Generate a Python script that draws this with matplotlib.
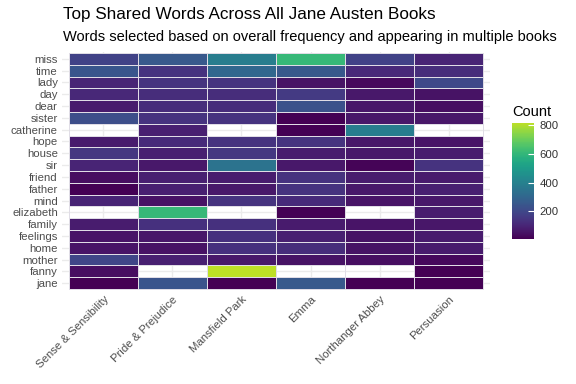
import numpy as np
import matplotlib.pyplot as plt
from matplotlib.colors import Normalize, ListedColormap

books = ['Sense & Sensibility', 'Pride & Prejudice', 'Mansfield Park',
         'Emma', 'Northanger Abbey', 'Persuasion']
words = ['miss', 'time', 'lady', 'day', 'dear', 'sister', 'catherine', 'hope',
         'house', 'sir', 'friend', 'father', 'mind', 'elizabeth', 'family',
         'feelings', 'home', 'mother', 'fanny', 'jane']

nan = np.nan
# counts per word, one column per book (nan = word not in that book)
miss = [185, 255, 385, 610, 185, 95]
time = [245, 140, 300, 255, 110, 120]
lady = [95, 140, 140, 50, 25, 200]
day = [105, 120, 120, 160, 65, 50]
dear = [70, 120, 120, 230, 60, 40]
sister = [220, 140, 140, 5, 60, 60]
catherine = [nan, 85, nan, 5, 385, nan]
hope = [70, 115, 140, 140, 60, 55]
house = [150, 85, 150, 75, 65, 75]
sir = [95, 65, 350, 65, 15, 140]
friend = [40, 85, 75, 140, 75, 70]
father = [10, 85, 65, 140, 65, 85]
mind = [95, 50, 140, 115, 55, 65]
elizabeth = [nan, 610, nan, 5, nan, 75]
family = [75, 130, 130, 70, 55, 60]
feelings = [55, 60, 130, 85, 50, 70]
home = [55, 50, 130, 120, 50, 70]
mother = [195, 85, 65, 50, 40, 25]
fanny = [40, nan, 816, nan, nan, 10]
jane = [5, 240, 5, 255, 10, 10]

values = np.array([miss, time, lady, day, dear, sister, catherine, hope, house,
                   sir, friend, father, mind, elizabeth, family, feelings,
                   home, mother, fanny, jane], dtype=float)

plt.rcParams['font.family'] = ['Liberation Sans', 'DejaVu Sans']

fig = plt.figure(figsize=(5.76, 3.84), dpi=100)
W, H = 576, 384
ax = fig.add_axes([62 / W, 1 - 290.2 / H, 428 / W, (290.2 - 51.8) / H])

cmap = ListedColormap(plt.get_cmap('viridis')(np.linspace(0, 0.9, 256)))
nr, nc = values.shape
norm = Normalize(vmin=np.nanmin(values), vmax=np.nanmax(values))
masked = np.ma.masked_invalid(values[::-1])
mesh = ax.pcolormesh(np.arange(nc + 1) + 0.5, np.arange(nr + 1) + 0.5, masked,
                     cmap=cmap, norm=norm, edgecolors='#e0dde6',
                     linewidth=0.6, zorder=2)

ax.set_xlim(0.4, nc + 0.6)
ax.set_ylim(0.4, nr + 0.6)
ax.set_xticks(np.arange(1, nc + 1))
ax.set_yticks(np.arange(1, nr + 1))
ax.set_xticklabels(books, rotation=45, ha='right', va='top',
                   rotation_mode='anchor', fontsize=8.2, color='#4d4d4d')
ax.set_yticklabels(words[::-1], fontsize=8.2, color='#4d4d4d')
ax.tick_params(length=0, pad=3)
ax.grid(True, color='#ebebeb', linewidth=1.0, zorder=0)
ax.set_axisbelow(True)
for s in ax.spines.values():
    s.set_visible(False)

fig.text(63 / W, 1 - 15 / H, 'Top Shared Words Across All Jane Austen Books',
         fontsize=12.3, ha='left', va='center')
fig.text(63 / W, 1 - 37 / H,
         'Words selected based on overall frequency and appearing in multiple books',
         fontsize=10.5, ha='left', va='center')

cax = fig.add_axes([512 / W, 1 - 239 / H, 22 / W, 116 / H])
cb = fig.colorbar(mesh, cax=cax, ticks=[200, 400, 600, 800])
cb.outline.set_visible(False)
cax.tick_params(length=4, color='white', width=0.8, direction='in',
                labelsize=8.2, labelcolor='#333333', pad=4)
cax.tick_params(which='minor', length=0)
fig.text(512 / W, 1 - 112 / H, 'Count', fontsize=10.5, ha='left', va='center')

fig.savefig('out.png', dpi=100)
